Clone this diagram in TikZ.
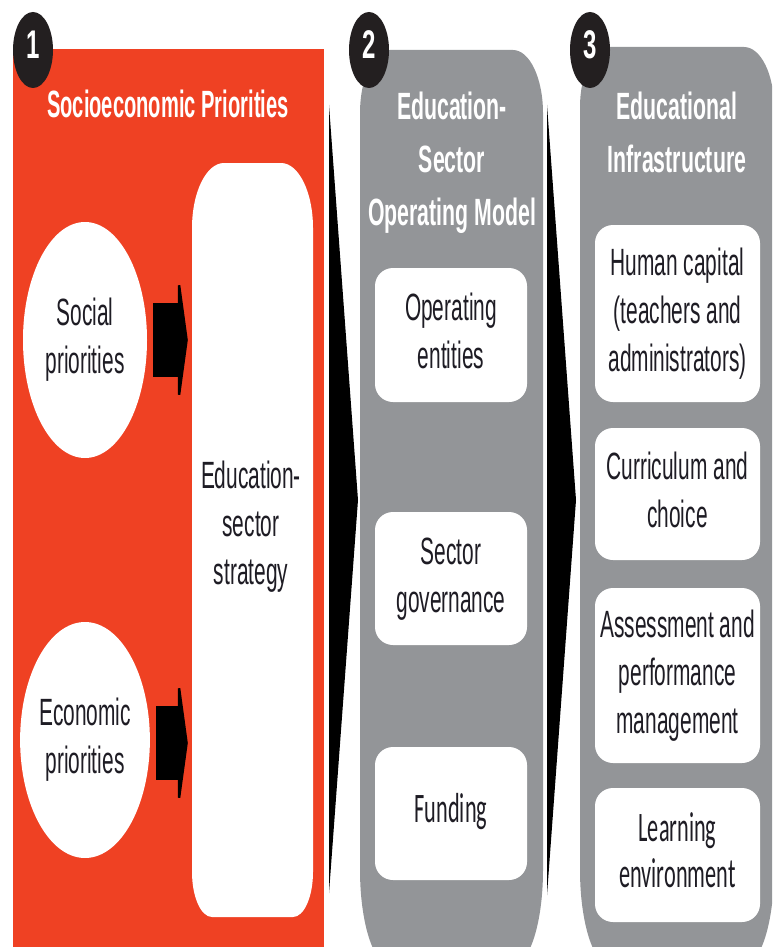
\documentclass[tikz,border=0pt]{standalone}
\usepackage{graphicx}
\usepackage{fontspec}
\setmainfont{Liberation Sans}
\newfontfamily\carl{Carlito}
\usetikzlibrary{shapes.geometric,calc,arrows.meta}
\definecolor{redp}{RGB}{239,65,35}
\definecolor{grayp}{RGB}{147,149,152}
\definecolor{ink}{RGB}{30,28,36}
\definecolor{badgec}{RGB}{35,31,32}
\newcommand\nt[2]{\scalebox{#1}[1]{\begin{tabular}{@{}c@{}}#2\end{tabular}}}
% elliptical-corner rectangle: [opts] x1 y1 x2 y2 rx_top ry_top rx_bot ry_bot
\newcommand\erect[9][]{%
 \pgfmathsetmacro\erA{#2+#6}\pgfmathsetmacro\erB{#4-#6}%
 \pgfmathsetmacro\erC{#3+#7}\pgfmathsetmacro\erD{#5-#9}%
 \pgfmathsetmacro\erE{#2+#8}\pgfmathsetmacro\erF{#4-#8}%
 \pgfmathsetmacro\erkxt{0.5523*#6}\pgfmathsetmacro\erkyt{0.5523*#7}%
 \pgfmathsetmacro\erkxb{0.5523*#8}\pgfmathsetmacro\erkyb{0.5523*#9}%
 \fill[#1] (\erA,#3) -- (\erB,#3)
  .. controls ({\erB+\erkxt},#3) and (#4,{\erC-\erkyt}) .. (#4,\erC)
  -- (#4,\erD)
  .. controls (#4,{\erD+\erkyb}) and ({\erF+\erkxb},#5) .. (\erF,#5)
  -- (\erE,#5)
  .. controls ({\erE-\erkxb},#5) and (#2,{\erD+\erkyb}) .. (#2,\erD)
  -- (#2,\erC)
  .. controls (#2,{\erC-\erkyt}) and ({\erA-\erkxt},#3) .. cycle;}
\tikzset{
  body/.style={text=ink, font=\fontsize{38}{48}\selectfont, inner sep=0pt},
  carlbody/.style={text=ink, font=\carl\fontsize{42}{46}\selectfont, inner sep=0pt},
  title/.style={text=white, font=\bfseries\fontsize{38}{53}\selectfont, inner sep=0pt},
  prio/.style={ellipse, fill=white, minimum width=124pt, minimum height=236pt, inner sep=0pt, body},
  badge/.style={ellipse, fill=badgec, minimum width=40pt, minimum height=76pt, inner sep=0pt, text=white, font=\bfseries\fontsize{40}{44}\selectfont},
  wbox/.style={fill=white, rounded corners=18pt, inner sep=0pt},
  blockarr/.style={draw=black, line width=74pt, -{Triangle[length=10pt,width=146pt]}},
  wedge/.style={fill=black}
}
\begin{document}
\begin{tikzpicture}[x=1pt,y=-1pt]
\useasboundingbox (0,0) rectangle (772,947);
\clip (0,0) rectangle (772,947);
% panel 1
\fill[redp] (13,49) rectangle (324,960);
\erect[white]{192}{163}{313}{917}{32}{65}{20}{45}
\node[minimum width=121pt, minimum height=754pt, inner sep=0pt] (strat) at (252.5,540) {};
\node[body] (strattxt) at (251,527) {\nt{0.55}{Education-\\sector\\strategy}};
\node[prio] (soc) at (85,340) {\nt{0.55}{Social\\priorities}};
\node[prio] (eco) at (85,740) {\nt{0.55}{Economic\\priorities}};
\draw[blockarr] ($(soc.east)+(6,0)$) -- ($(soc.east -| strat.west)+(-4,0)$);
\draw[blockarr] ($(eco.east)+(6,3)$) -- ($(eco.east -| strat.west)+(-4,3)$);
\node[title] (t1) at (168,107) {\nt{0.53}{Socioeconomic Priorities}};
% panels 2 and 3
\erect[grayp]{360}{50}{543}{965}{30}{63}{30}{95}
\erect[grayp]{580}{47}{774}{965}{30}{60}{30}{95}
% wedges
\coordinate (w1a) at (329,105); \coordinate (w1b) at (329,893); \coordinate (w1c) at (358,500);
\coordinate (w2a) at (547,105); \coordinate (w2b) at (547,895); \coordinate (w2c) at (576,500);
\fill[wedge] (w1a) -- (w1c) -- (w1b) -- cycle;
\fill[wedge] (w2a) -- (w2c) -- (w2b) -- cycle;
% titles
\node[title] (t2) at (452,162) {\nt{0.56}{Education-\\Sector\\Operating Model}};
\node[title] (t3) at (677,135.5) {\nt{0.56}{Educational\\Infrastructure}};
% panel 2 boxes
\node[wbox, minimum width=152pt, minimum height=134pt, body] (op) at (451,335) {\nt{0.55}{Operating\\entities}};
\node[wbox, minimum width=152pt, minimum height=133pt, body] (gov) at (451,578.5) {\nt{0.55}{Sector\\governance}};
\node[wbox, minimum width=152pt, minimum height=133pt, carlbody] (fund) at (451,813.5) {\nt{0.53}{Funding}};
% panel 3 boxes
\node[wbox, minimum width=165pt, minimum height=177pt, body] (hc) at (677.5,313.5) {\nt{0.55}{Human capital\\(teachers and\\administrators)}};
\node[wbox, minimum width=165pt, minimum height=132pt, body] (cur) at (677.5,494) {\nt{0.55}{Curriculum and\\choice}};
\node[wbox, minimum width=165pt, minimum height=175pt, body] (ass) at (677.5,675.5) {\nt{0.55}{Assessment and\\performance\\management}};
\node[wbox, minimum width=165pt, minimum height=134pt, carlbody] (learn) at (677.5,855) {\nt{0.53}{Learning\\environment}};
% badges
\node[badge] (b1) at (33,50) {\nt{0.6}{1}};
\node[badge] (b2) at (369,50) {\nt{0.6}{2}};
\node[badge] (b3) at (590,50) {\nt{0.6}{3}};
\end{tikzpicture}
\end{document}
